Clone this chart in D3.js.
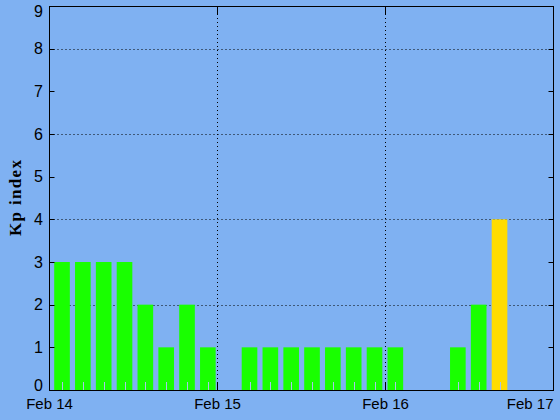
<!DOCTYPE html>
<html>
<head>
<meta charset="utf-8">
<script src="https://cdn.jsdelivr.net/npm/d3@7"></script>
<style>
  html, body { margin: 0; padding: 0; background: #7fb1f2; }
  svg { display: block; }
</style>
</head>
<body>
<svg id="chart" width="560" height="420"></svg>
<script>
// ---- data (3-hour Kp bins, Feb 14 00:00 UT onward; null = no bar) ----
const binStarts = d3.range(24).map(i => new Date(Date.UTC(2024, 1, 14, i * 3)));
const kpValues = [3, 3, 3, 3, 2, 1, 2, 1,
                  null, 1, 1, 1, 1, 1, 1, 1,
                  1, null, null, 1, 2, 4, null, null];
const barColors = ["g","g","g","g","g","g","g","g",
                   "g","g","g","g","g","g","g","g",
                   "g","g","g","g","g","y","g","g"];
const yTicks = [0, 1, 2, 3, 4, 5, 6, 7, 8, 9];
const yGrid = [2, 4, 6, 8];
const xTickDates = [new Date(Date.UTC(2024,1,14)), new Date(Date.UTC(2024,1,15)),
                    new Date(Date.UTC(2024,1,16)), new Date(Date.UTC(2024,1,17))];
const xTickLabels = ["Feb 14", "Feb 15", "Feb 16", "Feb 17"];
const yTitle = "Kp index";

const colorMap = { g: "#19ff00", y: "#ffdc00" };
const bg = "#7fb1f2";

const svg = d3.select("#chart");
const L = 49.5, R = 553.5, T = 6, B = 390;

const x = d3.scaleUtc()
  .domain([xTickDates[0], xTickDates[3]])
  .range([L, R]);
const xb = d3.scaleBand()
  .domain(d3.range(24))
  .range([51.6, 551.6])
  .paddingInner(0.25)
  .paddingOuter(0.125);
const y = d3.scaleLinear().domain([0, 9]).range([B, T]);

svg.append("rect").attr("width", 560).attr("height", 420).attr("fill", bg);

// grid
svg.append("g").selectAll("line").data(yGrid).join("line")
  .attr("x1", L).attr("x2", R)
  .attr("y1", d => Math.round(y(d)) + 0.5).attr("y2", d => Math.round(y(d)) + 0.5)
  .attr("stroke", "#000").attr("stroke-width", 1).attr("stroke-dasharray", "1,3");
svg.append("g").selectAll("line").data(xTickDates.slice(1, 3)).join("line")
  .attr("x1", d => Math.round(x(d)) - 0.5).attr("x2", d => Math.round(x(d)) - 0.5)
  .attr("y1", T).attr("y2", B)
  .attr("stroke", "#000").attr("stroke-width", 1).attr("stroke-dasharray", "1,3");

// bars
const bars = kpValues.map((v, i) => ({ i, v, c: barColors[i] })).filter(d => d.v !== null);
svg.append("g").selectAll("rect").data(bars).join("rect")
  .attr("x", d => xb(d.i))
  .attr("width", xb.bandwidth())
  .attr("y", d => y(d.v))
  .attr("height", d => y(0) - y(d.v))
  .attr("fill", d => colorMap[d.c]);
// light minor ticks in bar centres
svg.append("g").selectAll("line").data(bars).join("line")
  .attr("x1", d => Math.round(xb(d.i) + xb.bandwidth() / 2) + 0.5)
  .attr("x2", d => Math.round(xb(d.i) + xb.bandwidth() / 2) + 0.5)
  .attr("y1", B - 8).attr("y2", B)
  .attr("stroke", "#a9c3ec").attr("stroke-width", 1);

// frame
svg.append("rect").attr("x", L).attr("y", T + 0.5).attr("width", R - L).attr("height", B - T)
  .attr("fill", "none").attr("stroke", "#000").attr("stroke-width", 1);

// y ticks (left and right, inward)
svg.append("g").selectAll("line").data(yTicks).join("line")
  .attr("x1", L).attr("x2", L + 5)
  .attr("y1", d => Math.round(y(d)) + 0.5).attr("y2", d => Math.round(y(d)) + 0.5)
  .attr("stroke", "#000");
svg.append("g").selectAll("line").data(yTicks).join("line")
  .attr("x1", R - 5).attr("x2", R)
  .attr("y1", d => Math.round(y(d)) + 0.5).attr("y2", d => Math.round(y(d)) + 0.5)
  .attr("stroke", "#000");
// x ticks (top and bottom, inward)
svg.append("g").selectAll("line").data(xTickDates.slice(1, 3)).join("line")
  .attr("x1", d => Math.round(x(d)) - 0.5).attr("x2", d => Math.round(x(d)) - 0.5)
  .attr("y1", T).attr("y2", T + 8).attr("stroke", "#000");
svg.append("g").selectAll("line").data(xTickDates.slice(1, 3)).join("line")
  .attr("x1", d => Math.round(x(d)) - 0.5).attr("x2", d => Math.round(x(d)) - 0.5)
  .attr("y1", B - 8).attr("y2", B).attr("stroke", "#000");

// y tick labels
svg.append("g").selectAll("text").data(yTicks).join("text")
  .attr("x", 43)
  .attr("y", d => Math.min(Math.max(y(d), 11), 385))
  .attr("dy", "0.36em")
  .attr("text-anchor", "end")
  .attr("font-family", "Liberation Sans, Arial, sans-serif")
  .attr("font-size", 16)
  .attr("fill", "#000")
  .text(d => d);

// x tick labels
svg.append("g").selectAll("text").data(xTickDates).join("text")
  .attr("x", (d, i) => i === 3 ? x(d) : x(d))
  .attr("y", 409)
  .attr("text-anchor", (d, i) => i === 3 ? "end" : "middle")
  .attr("font-family", "Liberation Sans, Arial, sans-serif")
  .attr("font-size", 15)
  .attr("fill", "#000")
  .text((d, i) => xTickLabels[i]);

// y title
svg.append("text")
  .attr("transform", "translate(21,198) rotate(-90)")
  .attr("text-anchor", "middle")
  .attr("font-family", "Liberation Serif, Times New Roman, serif")
  .attr("font-weight", "bold")
  .attr("font-size", 17)
  .attr("textLength", 76)
  .attr("lengthAdjust", "spacing")
  .attr("fill", "#000")
  .text(yTitle);
</script>
</body>
</html>
